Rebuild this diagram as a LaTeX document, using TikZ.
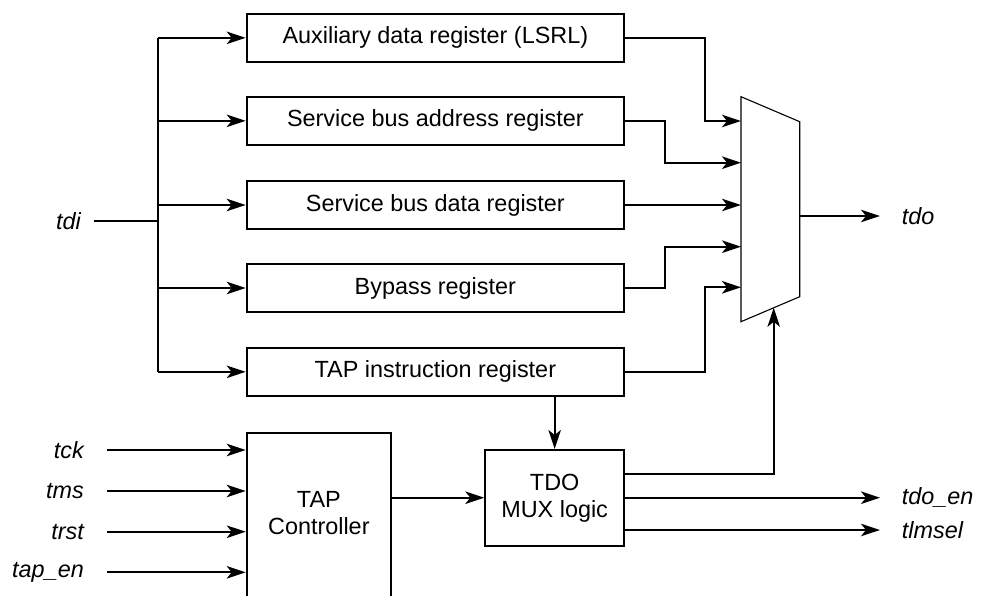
\documentclass[tikz,border=0pt]{standalone}
\usepackage{fontspec}
\setmainfont{Liberation Sans}
\usetikzlibrary{arrows.meta,calc}
\begin{document}
\begin{tikzpicture}[x=1pt,y=-1pt,
  every node/.style={font=\fontsize{23.4}{27}\selectfont},
  reg/.style={draw,line width=2pt,minimum width=377.3pt,minimum height=48.3pt,inner sep=0pt},
  blk/.style={draw,line width=2pt,inner sep=0pt},
  sig/.style={font=\fontsize{23.4}{27}\selectfont\itshape,inner sep=0pt},
  wire/.style={line width=2pt},
  arr/.style={wire,-{Stealth[length=19pt,width=12.5pt,inset=5pt]}}]
\useasboundingbox (0,0) rectangle (995,595);
\clip (0,0) rectangle (995,595);
% registers
\node[reg] (aux) at (435.35,37.85) {Auxiliary data register (LSRL)};
\node[reg] (sba) at (435.35,120.85) {Service bus address register};
\node[reg] (sbd) at (435.35,205) {Service bus data register};
\node[reg] (byp) at (435.35,288) {Bypass register};
\node[reg] (tir) at (435.35,371.85) {TAP instruction register};
% mux
\coordinate (mtl) at (741,96.7);
\coordinate (mtr) at (799.7,121.7);
\coordinate (mbr) at (799.7,296.7);
\coordinate (mbl) at (741,321.7);
\draw[line width=1.1pt] (mtl) -- (mtr) -- (mbr) -- (mbl) -- cycle;
\coordinate (m1) at (741,121);
\coordinate (m2) at (741,162.7);
\coordinate (m3) at (741,205);
\coordinate (m4) at (741,246.7);
\coordinate (m5) at (741,287.3);
\coordinate (mout) at (799.7,216);
\coordinate (msel) at (773.7,307.8);
% tdi
\node[sig,anchor=east] (tdi) at (81,220.7) {tdi};
\coordinate (bus) at (157.7,220.7);
\draw[wire] ($(tdi.east)+(13,0)$) -- (bus);
\draw[wire] (aux.west -| bus) -- (tir.west -| bus);
\foreach \r in {aux,sba,sbd,byp,tir} \draw[arr] (\r.west -| bus) -- (\r.west);
% register outputs to mux
\draw[arr] (aux.east) -- ++(80,0) |- (m1);
\draw[arr] (sba.east) -- ++(40.3,0) |- (m2);
\draw[arr] (sbd.east) -- (m3);
\draw[arr] (byp.east) -- ++(40.3,0) |- (m4);
\draw[arr] (tir.east) -- ++(80,0) |- (m5);
% tdo
\node[sig,anchor=west] (tdo) at (901.7,216) {tdo};
\draw[arr] (mout) -- ($(tdo.west)+(-21.7,0)$);
% TAP controller
\node[blk,minimum width=144.3pt,minimum height=200pt,anchor=north] (tap) at (318.85,432) {};
\node[align=center,inner sep=0pt] (taptxt) at (318.85,513) {TAP\\Controller};
% TDO MUX logic
\node[blk,minimum width=138.7pt,minimum height=96pt,align=center] (tml) at (554.65,498) {TDO\\MUX logic};
\draw[arr] (tir.south -| tml.north) -- (tml.north);
\draw[arr] (tap.east |- 0,497.7) -- (tml.west |- 0,497.7);
\draw[arr] (tml.east |- 0,474.3) -| (msel);
% inputs
\node[sig,anchor=east] (tck) at (84,450) {tck};
\node[sig,anchor=east] (tms) at (84,491) {tms};
\node[sig,anchor=east] (trst) at (84,531.7) {trst};
\node[sig,anchor=east] (tapen) at (84,572.3) {tap\_en};
\foreach \s in {tck,tms,trst,tapen} \draw[arr] ($(\s.east)+(23,0)$) -- (\s.east -| tap.west);
% outputs
\node[sig,anchor=west] (tdoen) at (901.7,497.7) {tdo\_en};
\node[sig,anchor=west] (tlmsel) at (901.7,530) {tlmsel};
\draw[arr] (tml.east |- tdoen) -- ($(tdoen.west)+(-21.7,0)$);
\draw[arr] (tml.east |- tlmsel) -- ($(tlmsel.west)+(-21.7,0)$);
\end{tikzpicture}
\end{document}
